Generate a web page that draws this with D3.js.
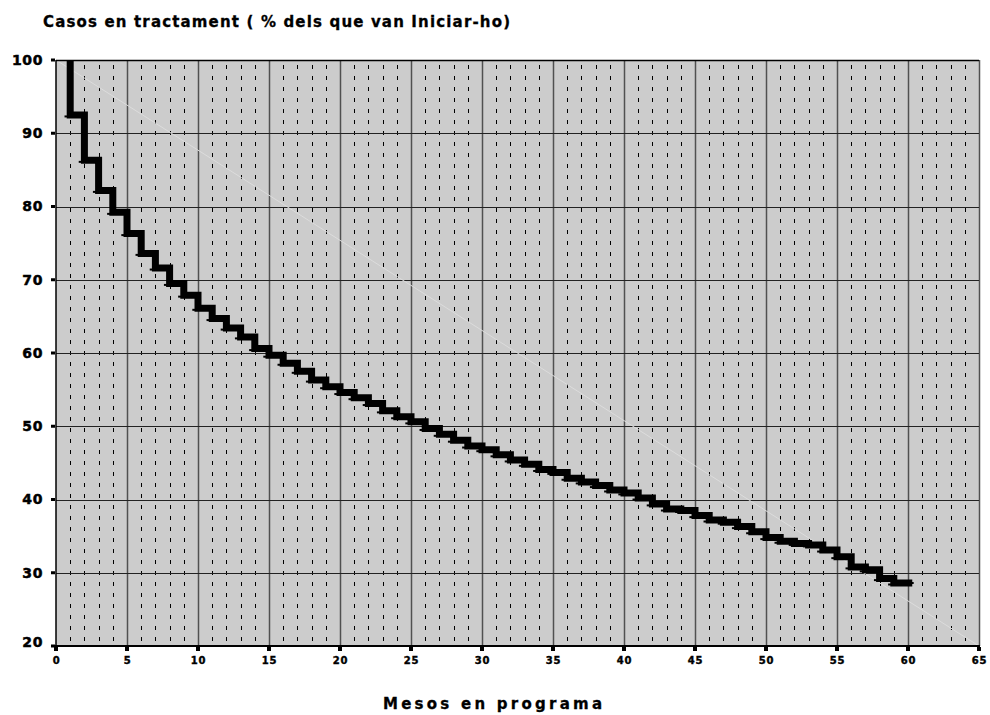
<!DOCTYPE html>
<html>
<head>
<meta charset="utf-8">
<script src="https://cdn.jsdelivr.net/npm/d3@7"></script>
<style>
  html, body { margin: 0; padding: 0; background: #fff; }
  svg { display: block; }
</style>
</head>
<body>
<svg id="chart" width="990" height="715"></svg>
<script>
// ---- data ----
const chartTitle = "Casos en tractament ( % dels que van Iniciar-ho)";
const xTitle = "Mesos en programa";
const months = d3.range(0, 60);                 // month index where each level starts
const levels = [100, 92.5, 86.3, 82.2, 79.2, 76.3, 73.6, 71.6, 69.5, 67.9,
                66.1, 64.7, 63.4, 62.2, 60.6, 59.7, 58.6, 57.5, 56.3, 55.4,
                54.6, 53.9, 53.1, 52.1, 51.3, 50.6, 49.7, 48.9, 48.1, 47.3,
                46.8, 46.1, 45.4, 44.8, 44.1, 43.7, 42.9, 42.4, 41.9, 41.3,
                40.9, 40.2, 39.4, 38.7, 38.5, 37.8, 37.2, 36.9, 36.3, 35.6,
                34.8, 34.3, 34.0, 33.8, 33.1, 32.2, 30.8, 30.4, 29.2, 28.6];
const lastMonth = 60.3;
const xTicks = d3.range(0, 66, 5);
const xMinor = d3.range(1, 65).filter(d => d % 5 !== 0);
const yTicks = d3.range(20, 101, 10);
const refLine = [[0, 100], [65, 20]];

// ---- layout ----
const svg = d3.select("#chart");
const L = 56, R = 979, T = 60, B = 646;
const x = d3.scaleLinear().domain([0, 65]).range([L, R]);
const y = d3.scaleLinear().domain([20, 100]).range([B, T]);
const font = "'DejaVu Sans', 'Liberation Sans', Arial, sans-serif";

// background
svg.append("rect").attr("x", L).attr("y", T).attr("width", R - L).attr("height", B - T)
  .attr("fill", "#cccccc");

// minor dashed verticals
svg.append("g").selectAll("line").data(xMinor).join("line")
  .attr("x1", d => Math.round(x(d)) + 0.5).attr("x2", d => Math.round(x(d)) + 0.5)
  .attr("y1", T + 5).attr("y2", B)
  .attr("stroke", "#000").attr("stroke-width", 1).attr("stroke-dasharray", "4,7");

// major verticals
svg.append("g").selectAll("line").data(xTicks.filter(d => d > 0)).join("line")
  .attr("x1", d => Math.round(x(d)) + 0.5).attr("x2", d => Math.round(x(d)) + 0.5)
  .attr("y1", T).attr("y2", B)
  .attr("stroke", "#505050").attr("stroke-width", 1.5);

// horizontal gridlines
svg.append("g").selectAll("line").data(yTicks.filter(d => d > 20)).join("line")
  .attr("x1", L).attr("x2", R)
  .attr("y1", d => Math.round(y(d)) + 0.5).attr("y2", d => Math.round(y(d)) + 0.5)
  .attr("stroke", "#222").attr("stroke-width", 1.2);

// faint reference diagonal
svg.append("line")
  .attr("x1", x(refLine[0][0])).attr("y1", y(refLine[0][1]))
  .attr("x2", x(refLine[1][0])).attr("y2", y(refLine[1][1]))
  .attr("stroke", "#dcdcdc").attr("stroke-width", 1);

// step line
const pts = [];
levels.forEach((v, i) => {
  const m = months[i] === 0 ? 0.95 : months[i];
  pts.push([m, v]);
});
pts.push([lastMonth, levels[levels.length - 1]]);
svg.append("clipPath").attr("id", "pc").append("rect")
  .attr("x", L).attr("y", T).attr("width", R - L).attr("height", B - T);
svg.append("path")
  .attr("clip-path", "url(#pc)")
  .attr("d", d3.line().x(d => x(d[0])).y(d => y(d[1])).curve(d3.curveStepAfter)(pts))
  .attr("fill", "none").attr("stroke", "#000").attr("stroke-width", 7)
  .attr("stroke-linejoin", "miter");
// small left overhang ticks at each new level
svg.append("g").selectAll("line").data(levels.slice(1).map((v, i) => [months[i + 1], v])).join("line")
  .attr("x1", d => x(d[0] - 0.4)).attr("x2", d => x(d[0]))
  .attr("y1", d => y(d[1]) + 1.5).attr("y2", d => y(d[1]) + 1.5)
  .attr("stroke", "#000").attr("stroke-width", 2);
// end tick
svg.append("line")
  .attr("x1", x(lastMonth - 0.3)).attr("x2", x(lastMonth + 0.1))
  .attr("y1", y(levels[levels.length - 1])).attr("y2", y(levels[levels.length - 1]))
  .attr("stroke", "#000").attr("stroke-width", 2);

// top border
svg.append("line").attr("x1", L).attr("x2", R).attr("y1", T + 0.5).attr("y2", T + 0.5)
  .attr("stroke", "#000").attr("stroke-width", 1.5);
// axes lines
svg.append("line").attr("x1", L).attr("x2", L).attr("y1", T).attr("y2", B)
  .attr("stroke", "#000").attr("stroke-width", 1.5);
svg.append("line").attr("x1", L - 1).attr("x2", R + 1).attr("y1", B).attr("y2", B)
  .attr("stroke", "#000").attr("stroke-width", 2);

// y ticks + labels
const yAxis = d3.axisLeft(y).tickValues(yTicks).tickSize(0).tickPadding(13);
const gy = svg.append("g").attr("transform", `translate(${L},0)`).call(yAxis);
gy.select(".domain").remove();
gy.selectAll("text").attr("font-family", font).attr("font-weight", "900")
  .attr("font-size", 14).attr("letter-spacing", 0.6).attr("fill", "#000")
  .attr("stroke", "#000").attr("stroke-width", 0.5);
gy.selectAll(".tick").filter(d => d === 20).select("text").attr("dy", "0.0em");
svg.append("g").selectAll("rect").data(yTicks).join("rect")
  .attr("x", L - 5).attr("y", d => y(d) - 1.5).attr("width", 4).attr("height", 3).attr("fill", "#000");

// x ticks + labels
const xAxis = d3.axisBottom(x).tickValues(xTicks).tickSize(0).tickPadding(11);
const gx = svg.append("g").attr("transform", `translate(0,${B})`).call(xAxis);
gx.select(".domain").remove();
gx.selectAll("text").attr("font-family", font).attr("font-weight", "bold")
  .attr("font-size", 10).attr("letter-spacing", 0.8).attr("fill", "#000")
  .attr("stroke", "#000").attr("stroke-width", 0.4);
svg.append("g").selectAll("rect").data(xTicks).join("rect")
  .attr("x", d => x(d) - 2).attr("y", B + 1).attr("width", 4).attr("height", 4).attr("fill", "#000");

// titles
svg.append("text").attr("x", 43).attr("y", 27).text(chartTitle)
  .attr("font-family", font).attr("font-weight", "bold").attr("font-size", 15)
  .attr("stroke", "#000").attr("stroke-width", 0.3)
  .attr("textLength", 467).attr("lengthAdjust", "spacing").attr("fill", "#000");
svg.append("text").attr("x", 383).attr("y", 709).text(xTitle)
  .attr("font-family", font).attr("font-weight", "bold").attr("font-size", 15)
  .attr("stroke", "#000").attr("stroke-width", 0.3)
  .attr("textLength", 219).attr("lengthAdjust", "spacing").attr("fill", "#000");
</script>
</body>
</html>
